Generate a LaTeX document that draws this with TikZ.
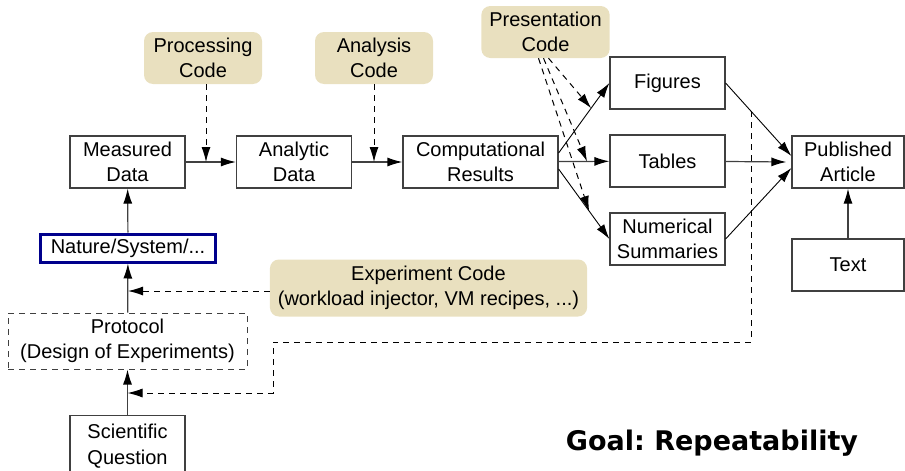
\documentclass[tikz,border=0pt]{standalone}
\usepackage{fontspec}
\setmainfont{Liberation Sans}
\newfontfamily\goalfont{DejaVu Sans}
\usetikzlibrary{arrows.meta,calc}

\definecolor{codebg}{RGB}{233,224,191}
\definecolor{natblue}{RGB}{0,0,140}

\tikzset{
  box/.style={draw=black!75,line width=1.2pt,align=center,
    minimum width=115pt,minimum height=52pt,inner sep=2pt},
  code/.style={fill=codebg,rounded corners=9pt,align=center,
    minimum width=118pt,minimum height=52pt,inner xsep=8pt,inner ysep=3pt},
  link/.style={-{Latex[length=15pt,width=9pt,color=black]},draw=black!75,line width=1.2pt},
  thin link/.style={-{Latex[length=15pt,width=9pt]},line width=0.9pt},
  codelink/.style={-{Latex[length=15pt,width=9pt]},line width=1pt,dash pattern=on 6pt off 5pt}
}

\begin{document}
\begin{tikzpicture}[x=1pt,y=-1pt,font=\fontsize{20}{25.5}\selectfont]

  \useasboundingbox (0,0) rectangle (905,471);

  \begin{scope}[every node/.style={box}]
    \node (meas)  at (127.5,162) {Measured\\Data};
    \node (anal)  at (294,162)   {Analytic\\Data};
    \node[minimum width=155pt] (comp) at (480.5,162) {Computational\\Results};
    \node (fig)   at (667.5,83)  {Figures};
    \node (tab)   at (667.5,161) {Tables};
    \node (num)   at (667.5,239) {Numerical\\Summaries};
    \node[minimum width=112pt] (pub)  at (848,162) {Published\\Article};
    \node[minimum width=112pt] (text) at (848,265) {Text};
    \node[draw=natblue,line width=3pt,minimum width=175pt,minimum height=28pt] (nature) at (128,248) {Nature/System/...};
    \node[line width=1pt,dash pattern=on 6pt off 5pt,minimum width=239pt,minimum height=56pt] (proto) at (127.5,341) {Protocol\\(Design of Experiments)};
    \node[minimum height=61pt] (sci) at (127.5,446) {Scientific\\Question};
  \end{scope}

  \begin{scope}[every node/.style={code}]
    \node (proccode) at (203,58)   {Processing\\Code};
    \node (anacode)  at (374,58)   {Analysis\\Code};
    \node (prescode) at (545.5,32) {Presentation\\Code};
    \node[minimum height=57pt] (expcode) at (428.5,288) {Experiment Code\\(workload injector, VM recipes, ...)};
  \end{scope}

  \node[font=\goalfont\bfseries\fontsize{27}{30}\selectfont] (goal) at (712,443) {Goal:\ Repeatability};

  % main flow
  \draw[link] (meas) -- (anal);
  \draw[link] (anal) -- (comp);
  \draw[link] (comp) -- (tab);
  \draw[thin link] ([yshift=9pt]comp.east) -- (fig.west);
  \draw[thin link] ([yshift=-7pt]comp.east) -- (num.west);
  \draw[thin link] (fig.east) -- ([yshift=6pt]pub.west);
  \draw[link] (tab) -- ([xshift=-5pt]pub.west);
  \draw[thin link] (num.east) -- ([yshift=-6pt]pub.west);
  \draw[link] (text) -- (pub);
  \draw[link] (nature) -- (meas);
  \draw[link] (proto) -- (nature);
  \draw[link] (sci) -- (proto);

  % code feeding in
  \coordinate (procin) at ([xshift=3pt]proccode.south |- meas.east);
  \coordinate (anain)  at (anacode.south |- anal.east);
  \draw[codelink] ([xshift=3pt]proccode.south) -- (procin);
  \draw[codelink] (anacode) -- (anain);

  \coordinate (figin) at ($([yshift=9pt]comp.east)!0.64!(fig.west)$);
  \coordinate (tabin) at ($(comp.east)!0.56!(tab.west)$);
  \coordinate (numin) at ($([yshift=-7pt]comp.east)!0.6!(num.west)$);
  \draw[codelink] ([xshift=3pt]prescode.south)  -- (figin);
  \draw[codelink] ([xshift=-2pt]prescode.south) -- (tabin);
  \draw[codelink] ([xshift=-7pt]prescode.south) -- (numin);

  \coordinate (expout) at ([yshift=-3pt]expcode.west);
  \coordinate (expin)  at (expout -| nature.south);
  \draw[codelink] (expout) -- (expin);

  % feedback to the question
  \coordinate (fb)   at ($(fig.east)!0.39!([yshift=6pt]pub.west)$);
  \coordinate (fb2)  at (273,342);
  \coordinate (fb3)  at (273,393);
  \coordinate (qin)  at (sci.north |- fb3);
  \draw[codelink] (fb) |- (fb2) -- (fb3) -- (qin);

\end{tikzpicture}
\end{document}
